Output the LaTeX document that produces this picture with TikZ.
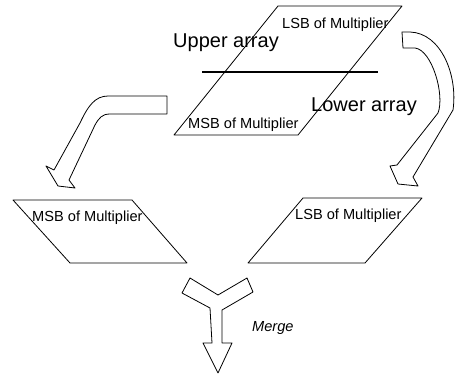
\documentclass[tikz,border=0pt]{standalone}
\usepackage{fontspec}
\setmainfont{Liberation Sans}

\begin{document}
\begin{tikzpicture}[x=1pt,y=-1pt,
        slab/.style={draw=black,line width=.8pt,line join=round},
        bigarrow/.style={draw=black,line width=.8pt,fill=white,line join=round},
        lbl/.style={font=\fontsize{14.6}{14.6}\selectfont,inner sep=0pt,anchor=base west},
        biglbl/.style={font=\fontsize{20}{20}\selectfont,inner sep=0pt,anchor=base west}]
    \useasboundingbox (0,0) rectangle (455,375);

    %the whole array, cut in two halves
    \draw[slab] (278,6) -- (402,6) -- (298,135) -- (174,135) -- cycle;
    \draw[black,line width=1.6pt] (202,72) -- (378,72); %cut line
    \node[lbl] (toplsb) at (282,28) {LSB of Multiplier};
    \node[lbl] (topmsb) at (188,128) {MSB of Multiplier};
    \node[biglbl] (upper) at (173,47) {Upper array};
    \node[biglbl] (lower) at (311,111) {Lower array};

    %the two halves, side by side:
    \draw[slab] (13,200) -- (132,200) -- (187,263) -- (70,263) -- cycle;
    \node[lbl] (leftmsb) at (32,221) {MSB of Multiplier};
    \draw[slab] (303,198) -- (422,198) -- (365,263) -- (248,263) -- cycle;
    \node[lbl] (rightlsb) at (295,219) {LSB of Multiplier};

    %bent arrows
    \draw[bigarrow] (167,96) -- (167,114) -- (110,114)
        .. controls (102,114) and (99,118) .. (95,125) -- (69,180)
        -- (75,188) -- (58,186) -- (46,166) -- (54,170) -- (80,123)
        .. controls (88,106) and (95,96) .. (108,96) -- cycle;
    \draw[bigarrow] (402,32) -- (403,48) -- (415,48)
        .. controls (432,50) and (445,95) .. (438,113) -- (397,165)
        -- (390,166) -- (398,184) -- (418,186) -- (413,177) -- (453,110)
        .. controls (458,75) and (441,33) .. (410,32) -- cycle;

    %merging arrow
    \draw[bigarrow] (190,278) -- (218,295) -- (247,278) -- (253,292)
        -- (222,310) -- (222,343) -- (232,343) -- (218,373) -- (203,343)
        -- (212,343) -- (210,308) -- (182,293) -- cycle;
    \node[lbl,font=\fontsize{14.6}{14.6}\selectfont\itshape] (merge) at (252,331) {Merge};
\end{tikzpicture}
\end{document}
